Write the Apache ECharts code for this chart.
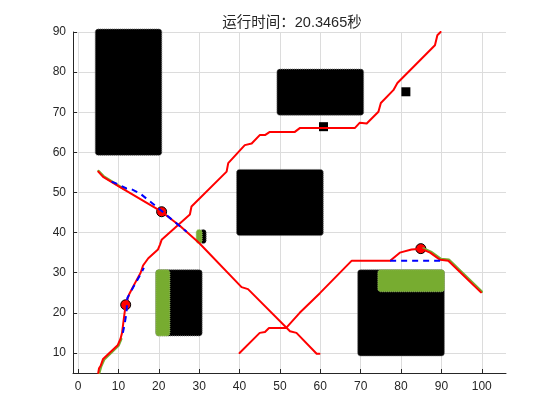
<!DOCTYPE html>
<html><head><meta charset="utf-8">
<script src="https://cdn.jsdelivr.net/npm/echarts@6/dist/echarts.min.js"></script>
<style>html,body{margin:0;padding:0;background:#fff}#c{width:560px;height:420px}</style>
</head><body><div id="c"></div>
<script>
const titleText = '运行时间：20.3465秒';
const xTicks = [0,10,20,30,40,50,60,70,80,90,100];
const yTicks = [10,20,30,40,50,60,70,80,90];

// obstacles [x1, y1, x2, y2]
const blackObstacles = [[5,60,20,90],[50,70,70,80],[40,40,60,55],[20,15,30,30],[70,10,90,30],[31,38,31,40]];
const greenObstacles = [[20,15,22,30],[75,26,90,30],[30,38,30,40]];
const blackSquares = [[60.8,66.4],[81.2,75.1]];

const pathA = [[5,5],[5.2,6.2],[5.6,6.8],[6.2,8.5],[9.8,11.9],[10.5,13.5],[10.9,15],[11.4,19],[11.8,22],[12.6,24.5],[14.1,27.4],[15.5,30],[16.1,31.8],[17.4,33.6],[19.8,35.8],[20.3,37],[20.7,38.2],[27.7,44.5],[28.1,46.5],[36.8,55.2],[37.2,57.3],[41.3,61.8],[43,62.2],[45,64.3],[46.3,64.3],[47.5,65.1],[53.7,65.1],[55,66.1],[68.6,66.1],[69.8,67.4],[71.5,67.2],[74.4,70.1],[75,72.3],[78.1,75.5],[79.1,77.3],[88.4,86.7],[89,89.2],[89.8,90]];
const pathB = [[5,55.2],[6.2,53.9],[10.3,51.4],[20.7,45.2],[25.2,41.7],[30,37.4],[40.5,26.4],[42.1,25.9],[52.5,15.4],[54.1,15],[59.1,9.8],[59.8,9.8]];
const pathC = [[40,10],[45,15],[46.3,15.2],[47.3,16.2],[51.5,16.2],[54.9,20],[59.9,24.9],[67.8,33],[77.3,33],[79.7,35],[82.6,35.8],[84.9,36],[87.2,35],[89.7,33.2],[91.7,33],[99.8,25.1]];

const greenA = [[5.25,5],[5.7,6.6],[6.5,8.4],[10,11.8],[10.7,13.5]];
const greenB = [[5.1,55.35],[6.3,54.05],[10.3,51.55],[11.5,50.8]];
const greenC = [[85.5,36.05],[87.4,35.2],[89.9,33.4],[91.9,33.2],[100,25.25]];

const blueA = [[11.1,15],[11.5,17],[12,20],[12.2,23.7],[13.8,26.6],[15.7,30],[16.3,31.2]];
const blueB = [[8.3,52.7],[10,52],[12,51],[12.8,51],[15.3,49.8],[19.4,46.5],[21.5,44.7],[26.9,40.2]];
const blueC = [[77.3,33],[90,33]];

const redDots = [[11.8,22],[20.7,45.2],[84.9,36]];

function rectRender(color, stroke) {
  return function (params, api) {
    const p1 = api.coord([api.value(0), api.value(3)]);
    const p2 = api.coord([api.value(2), api.value(1)]);
    const pad = 3;
    return {
      type: 'rect',
      shape: { x: p1[0]-pad, y: p1[1]-pad, width: p2[0]-p1[0]+2*pad, height: p2[1]-p1[1]+2*pad, r: 3 },
      style: { fill: color, stroke: stroke, lineWidth: 1, lineDash: [1,1] }
    };
  };
}
function line(data, color, width, dash) {
  return { type: 'line', data: data, symbol: 'none', animation: false, silent: true,
    lineStyle: { color: color, width: width, opacity: 1, type: dash ? [6,5] : 'solid', cap: dash ? 'butt' : 'round', join: 'round' } };
}
const font = 'Liberation Sans, Arial, Noto Sans CJK SC, sans-serif';
const chart = echarts.init(document.getElementById('c'), null, { renderer: 'canvas' });
chart.setOption({
  animation: false,
  backgroundColor: '#fff',
  title: { text: titleText, left: 287, textAlign: 'center', top: 11,
    textStyle: { fontSize: 14.5, fontWeight: 'normal', color: '#262626', fontFamily: font } },
  grid: { left: 73, right: 54, top: 32, bottom: 47, containLabel: false },
  xAxis: { type: 'value', min: -1.25, max: 106,
    axisLine: { show: true, onZero: false, lineStyle: { color: '#262626', width: 1 } },
    axisTick: { show: true, inside: true, length: 4, customValues: xTicks, lineStyle: { color: '#262626' } },
    axisLabel: { customValues: xTicks, color: '#262626', fontSize: 12, fontFamily: font, margin: 8 },
    splitLine: { show: true, lineStyle: { color: '#dcdcdc', width: 1 } } },
  yAxis: { type: 'value', min: 5, max: 90,
    axisLine: { show: true, onZero: false, lineStyle: { color: '#262626', width: 1 } },
    axisTick: { show: true, inside: true, length: 4, customValues: yTicks, lineStyle: { color: '#262626' } },
    axisLabel: { customValues: yTicks, color: '#262626', fontSize: 12, fontFamily: font, margin: 7 },
    splitLine: { show: true, lineStyle: { color: '#dcdcdc', width: 1 } } },
  series: [
    { type: 'custom', data: blackObstacles, renderItem: rectRender('#000', '#777'), encode: { x: [0,2], y: [1,3] }, silent: true },
    { type: 'custom', data: greenObstacles, renderItem: rectRender('#77ac30', '#9bbf6a'), encode: { x: [0,2], y: [1,3] }, silent: true },
    { type: 'scatter', data: blackSquares, symbol: 'rect', symbolSize: 9, itemStyle: { color: '#000', opacity: 1 }, silent: true },
    line(greenA, '#77ac30', 2.5), line(greenB, '#77ac30', 2.5), line(greenC, '#77ac30', 2.5),
    line(pathA, '#ff0000', 2), line(pathB, '#ff0000', 2), line(pathC, '#ff0000', 2),
    line(blueA, '#0000ff', 2, true), line(blueB, '#0000ff', 2, true), line(blueC, '#0000ff', 2, true),
    { type: 'scatter', data: redDots, symbol: 'circle', symbolSize: 10,
      itemStyle: { color: '#ff0000', borderColor: '#000', borderWidth: 1, opacity: 1 }, silent: true }
  ]
});
</script></body></html>
